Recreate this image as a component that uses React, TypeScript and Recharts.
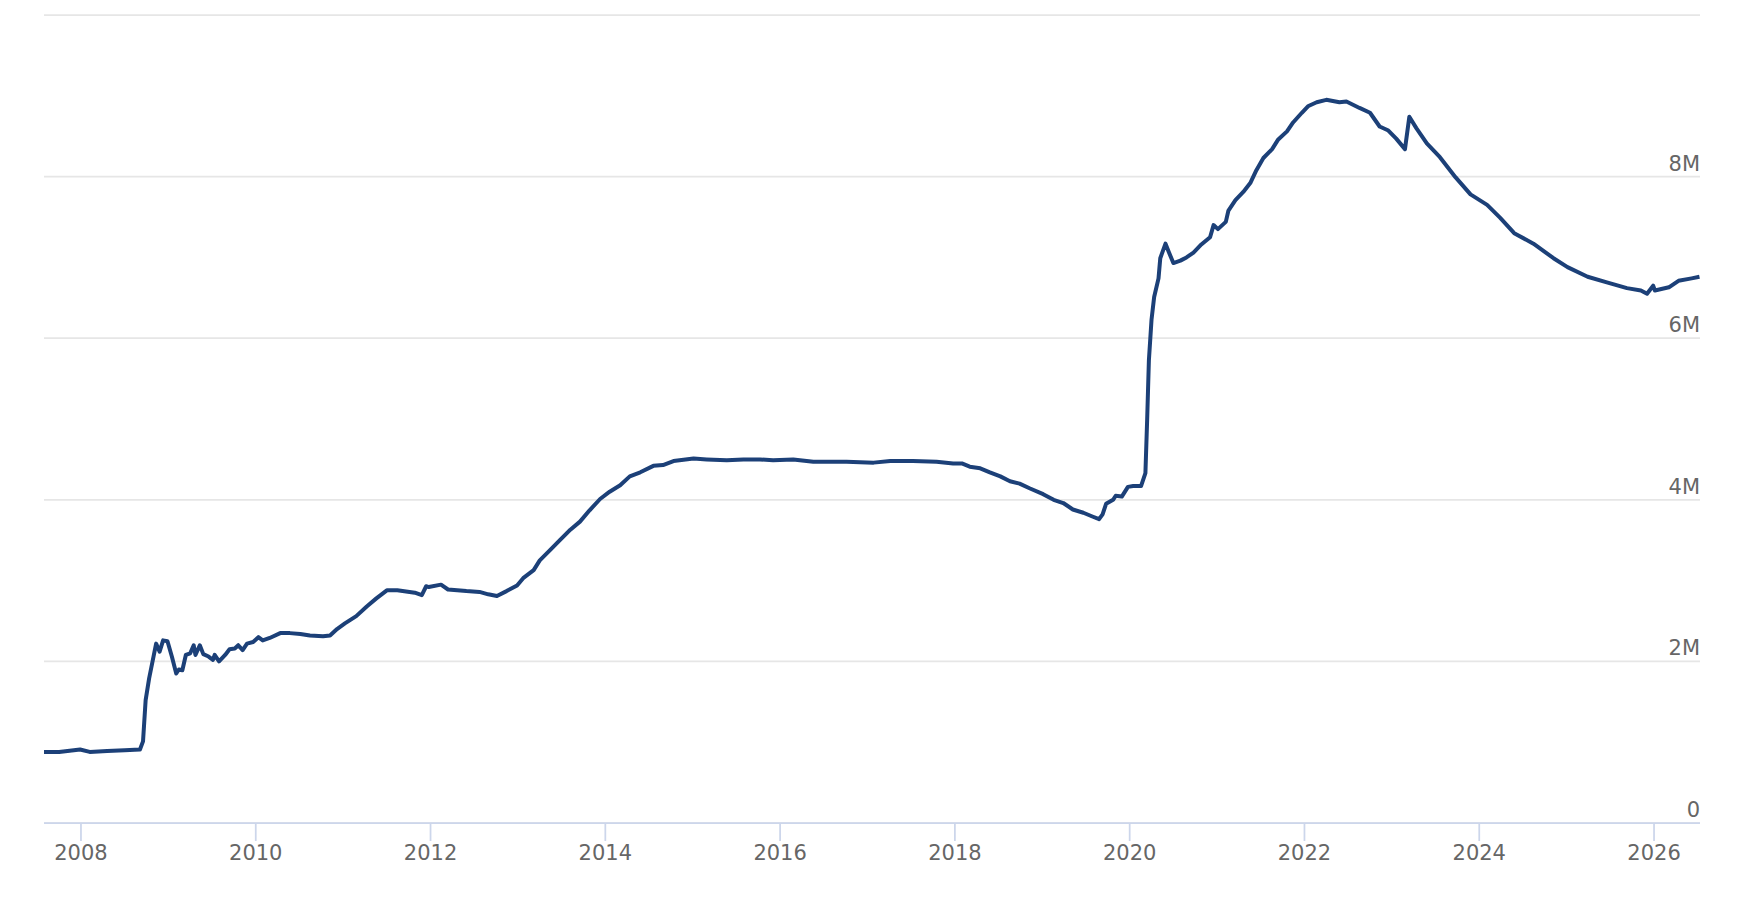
import React from 'react';
import { LineChart, Line, XAxis, YAxis, CartesianGrid } from 'recharts';

// Decimal years and total assets (in "M")
const years: number[] = [
  2007.577, 2007.75, 2007.99, 2008.1, 2008.3, 2008.5, 2008.675, 2008.71, 2008.74, 2008.78,
  2008.86, 2008.9, 2008.94, 2008.99, 2009.04, 2009.09, 2009.12, 2009.16, 2009.2, 2009.25,
  2009.29, 2009.31, 2009.36, 2009.4, 2009.46, 2009.51, 2009.53, 2009.58, 2009.65, 2009.7,
  2009.76, 2009.8, 2009.85, 2009.9, 2009.97, 2010.03, 2010.08, 2010.16, 2010.28, 2010.39,
  2010.51, 2010.62, 2010.77, 2010.85, 2010.93, 2011.02, 2011.15, 2011.27, 2011.38, 2011.5,
  2011.62, 2011.76, 2011.82, 2011.9, 2011.95, 2011.98, 2012.12, 2012.2, 2012.41, 2012.56,
  2012.66, 2012.76, 2012.87, 2012.99, 2013.06, 2013.18, 2013.25, 2013.37, 2013.48, 2013.6,
  2013.71, 2013.82, 2013.94, 2014.05, 2014.17, 2014.28, 2014.4, 2014.55, 2014.66, 2014.78,
  2015.01, 2015.16, 2015.39, 2015.58, 2015.77, 2015.92, 2016.15, 2016.38, 2016.76, 2017.07,
  2017.26, 2017.52, 2017.79, 2017.98, 2018.08, 2018.17, 2018.29, 2018.4, 2018.52, 2018.63,
  2018.74, 2018.86, 2019.01, 2019.13, 2019.24, 2019.35, 2019.47, 2019.58, 2019.65, 2019.69,
  2019.73, 2019.81, 2019.84, 2019.91, 2019.98, 2020.04, 2020.13, 2020.18, 2020.2, 2020.22,
  2020.25, 2020.28, 2020.33, 2020.35, 2020.41, 2020.45, 2020.5, 2020.58, 2020.65, 2020.73,
  2020.82, 2020.92, 2020.96, 2021.01, 2021.1, 2021.13, 2021.21, 2021.3, 2021.38, 2021.45,
  2021.53, 2021.63, 2021.7, 2021.8, 2021.87, 2021.97, 2022.04, 2022.14, 2022.25, 2022.4,
  2022.48, 2022.63, 2022.75, 2022.86, 2022.96, 2023.05, 2023.15, 2023.2, 2023.28, 2023.4,
  2023.55, 2023.73, 2023.9, 2024.09, 2024.24, 2024.4, 2024.62, 2024.85, 2025.01, 2025.24,
  2025.46, 2025.69, 2025.85, 2025.92, 2025.99, 2026.01, 2026.17, 2026.28, 2026.43, 2026.52,
];

const assets: number[] = [
  0.88, 0.88, 0.91, 0.88, 0.89, 0.9, 0.91, 1.01, 1.52, 1.79,
  2.22, 2.12, 2.26, 2.25, 2.06, 1.85, 1.9, 1.89, 2.08, 2.1,
  2.2, 2.08, 2.2, 2.09, 2.06, 2.02, 2.08, 2.0, 2.08, 2.15,
  2.16, 2.2, 2.14, 2.22, 2.24, 2.3, 2.26, 2.29, 2.35, 2.35,
  2.34, 2.32, 2.31, 2.32, 2.4, 2.47, 2.56, 2.68, 2.78, 2.88,
  2.88, 2.86, 2.85, 2.82, 2.93, 2.92, 2.95, 2.89, 2.87, 2.86,
  2.83, 2.81, 2.87, 2.94, 3.03, 3.13, 3.25, 3.38, 3.5, 3.63,
  3.73, 3.87, 4.01, 4.1, 4.18, 4.29, 4.34, 4.42, 4.43, 4.48,
  4.51, 4.5, 4.49, 4.5, 4.5, 4.49, 4.5, 4.47, 4.47, 4.46,
  4.48, 4.48, 4.47, 4.45, 4.45, 4.41, 4.39, 4.34, 4.29, 4.23,
  4.2, 4.14, 4.07, 4.0, 3.96, 3.88, 3.84, 3.79, 3.76, 3.82,
  3.95, 4.0, 4.05, 4.04, 4.16, 4.17, 4.17, 4.33, 4.99, 5.73,
  6.23, 6.51, 6.74, 6.99, 7.17, 7.06, 6.93, 6.96, 7.0, 7.06,
  7.16, 7.25, 7.4, 7.35, 7.44, 7.58, 7.71, 7.81, 7.92, 8.08,
  8.23, 8.34, 8.46, 8.56, 8.67, 8.79, 8.87, 8.92, 8.95, 8.92,
  8.93, 8.85, 8.79, 8.62, 8.57, 8.47, 8.34, 8.74, 8.6, 8.41,
  8.24, 7.99, 7.78, 7.65, 7.49, 7.3, 7.17, 6.99, 6.88, 6.76,
  6.69, 6.62, 6.59, 6.55, 6.65, 6.59, 6.63, 6.71, 6.74, 6.76,
];

const xTicks: number[] = [2008, 2010, 2012, 2014, 2016, 2018, 2020, 2022, 2024, 2026];
const yTicks: number[] = [0, 2, 4, 6, 8, 10];

const data = years.map((t, i) => ({ t, v: assets[i] }));

const FONT = "'DejaVu Sans', 'Lucida Grande', sans-serif";

const renderYTick = (props: any) => {
  const { y, payload } = props;
  if (payload.value === 10) return <g />;
  const label = payload.value === 0 ? '0' : `${payload.value}M`;
  return (
    <text x={1700} y={y - 6} textAnchor="end" fill="#666666" fontSize={21} fontFamily={FONT}>
      {label}
    </text>
  );
};

export default function App() {
  return (
    <div style={{ position: 'absolute', left: 0, top: 0, width: 1750, height: 902, background: '#fff' }}>
      <LineChart
        width={1750}
        height={902}
        data={data}
        margin={{ top: 15, right: 49, bottom: 39, left: 44 }}
      >
        <CartesianGrid vertical={false} stroke="#e6e6e6" strokeWidth={1.75} />
        <XAxis
          dataKey="t"
          type="number"
          domain={[2007.577, 2026.526]}
          allowDataOverflow
          ticks={xTicks}
          height={40}
          tickSize={18}
          tickMargin={4}
          axisLine={{ stroke: '#ccd6eb', strokeWidth: 1.75 }}
          tickLine={{ stroke: '#ccd6eb', strokeWidth: 1.75 }}
          tick={{ fill: '#666666', fontSize: 21, fontFamily: FONT }}
        />
        <YAxis
          orientation="right"
          width={1}
          domain={[0, 10]}
          ticks={yTicks}
          axisLine={false}
          tickLine={false}
          tick={renderYTick}
          interval={0}
        />
        <Line
          type="linear"
          dataKey="v"
          stroke="#1c4078"
          strokeWidth={4}
          dot={false}
          activeDot={false}
          isAnimationActive={false}
          strokeLinejoin="round"
        />
      </LineChart>
    </div>
  );
}
